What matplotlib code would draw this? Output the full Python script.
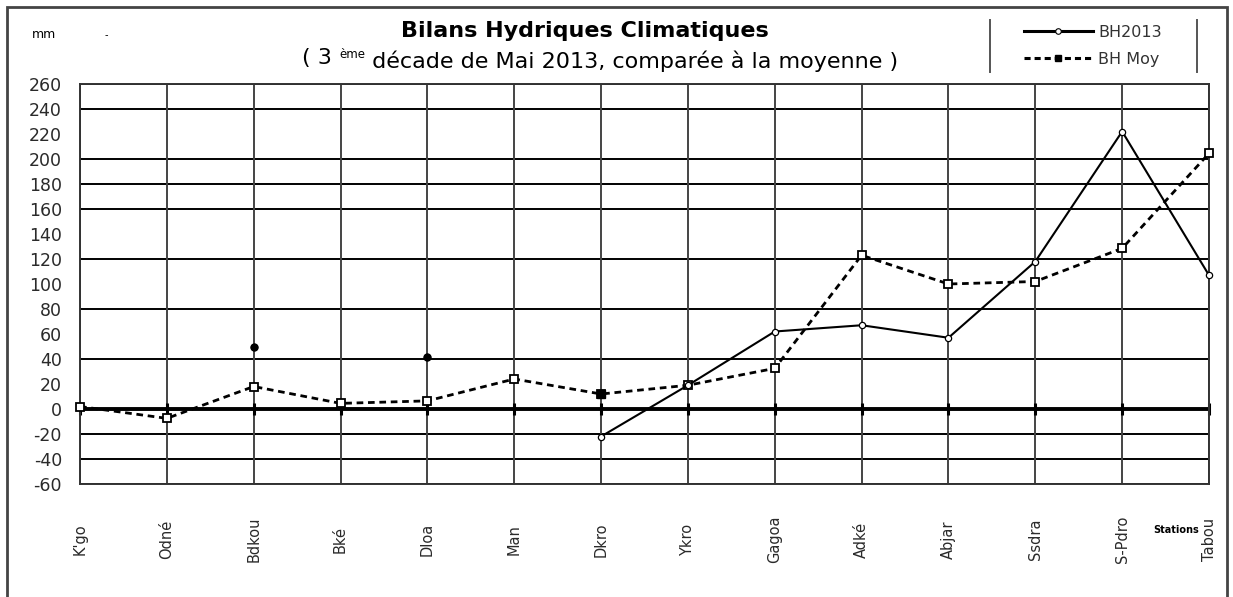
import numpy as np
import matplotlib
matplotlib.use("Agg")
import matplotlib.pyplot as plt
from matplotlib.lines import Line2D
from matplotlib.patches import Rectangle

plt.rcParams['font.family'] = ['DejaVu Sans']

# ---- data ----
stations = ["K'go", "Odné", "Bdkou", "Bké", "Dloa", "Man", "Dkro",
            "Ykro", "Gagoa", "Adké", "Abjar", "Ssdra", "S-Pdro", "Tabou"]
bh2013 = [np.nan, np.nan, 50, np.nan, 42, np.nan, -22,
          19, 62, 67, 57, 118, 222, 107]
bh_moy = [2, -7.5, 18, 4.5, 6.5, 24, 12,
          19, 32.5, 123, 100, 102, 128.5, 204.5]
y_ticks = list(range(-60, 261, 20))
y_grid = [260, 240, 200, 180, 160, 120, 80, 40, -20, -40, -60]

W, H = 1233, 597
fig = plt.figure(figsize=(W / 100, H / 100), dpi=100)
fig.patch.set_facecolor('white')

def fx(px):
    return px / W

def fy(py):
    return 1 - py / H

ax = fig.add_axes([fx(80), fy(484), fx(1209) - fx(80), fy(84) - fy(484)])
x = np.arange(len(stations))
b13 = np.array(bh2013, dtype=float)
moy = np.array(bh_moy, dtype=float)

ax.set_xlim(0, len(stations) - 1)
ax.set_ylim(-60, 260)

# grid
for v in y_grid:
    ax.axhline(v, color='black', lw=1.4, zorder=1)
for xi in x:
    ax.axvline(xi, color='#444444', lw=1.4, zorder=1)
ax.axhline(0, color='black', lw=2.8, zorder=2)
ax.plot(x, np.zeros_like(x, dtype=float), ls='none', marker='|',
        ms=8, mew=2.2, color='black', zorder=2, clip_on=False)

# series
ax.plot(x, moy, color='black', lw=2.0, ls=(0, (2.4, 1.7)), marker='s', ms=6,
        mfc='white', mec='black', mew=1.3, zorder=3, clip_on=False)
ax.plot(x[6], moy[6], ls='none', marker='s', ms=6, color='black', zorder=4)
ax.plot(x, b13, color='black', lw=1.5, marker='o', ms=4.5,
        mfc='white', mec='black', mew=0.9, zorder=4, clip_on=False)
iso = np.array([not np.isnan(b13[i]) and
                (i == 0 or np.isnan(b13[i - 1])) and
                (i == len(b13) - 1 or np.isnan(b13[i + 1]))
                for i in range(len(b13))])
ax.plot(x[iso], b13[iso], ls='none', marker='o', ms=5, color='black', zorder=5)

# axes styling
for s in ax.spines.values():
    s.set_color('#333333')
    s.set_linewidth(1.4)
ax.set_yticks(y_ticks)
ax.set_yticklabels([str(v) for v in y_ticks], fontsize=12.5, color='#2a2a2a')
ax.set_yticks(y_grid, minor=True)
ax.tick_params(axis='y', which='major', length=0, pad=13)
ax.tick_params(axis='y', which='minor', length=5.5, width=1.4, color='black')
ax.set_xticks(x)
ax.set_xticklabels(stations, rotation=90, fontsize=10.5, va='center',
                   color='#2a2a2a')
ax.tick_params(axis='x', length=0, pad=40)

# titles
fig.text(fx(585), fy(31), "Bilans Hydriques Climatiques", ha='center',
         va='center', fontsize=16, fontweight='bold')
t1 = fig.text(fx(302), fy(64), "( 3 ", ha='left', va='baseline', fontsize=16)
t2 = ax.annotate("ème", xy=(1, 1), xycoords=t1, ha='left', va='top',
                 fontsize=8.5, annotation_clip=False)
t3 = ax.annotate(" décade de Mai 2013, comparée à la moyenne )",
                 xy=(1, 0), xycoords=(t2, t1),
                 ha='left', va='baseline', fontsize=16, annotation_clip=False)

fig.text(fx(32), fy(34), "mm", ha='left', va='center', fontsize=9)
fig.text(fx(105), fy(35), "-", ha='left', va='center', fontsize=7)
fig.text(fx(1176), fy(530), "Stations", ha='center', va='center',
         fontsize=7, fontweight='bold')

# legend
handles = [Line2D([], [], color='black', lw=2.2, marker='o', ms=4,
                  mfc='white', mec='black', mew=0.8),
           Line2D([], [], color='black', lw=2.2, ls=(0, (2, 1.3)), marker='s',
                  ms=4, mfc='black', mec='black')]
fig.legend(handles, ["BH2013", "BH Moy"], loc='center left',
           bbox_to_anchor=(fx(1016), fy(46)), frameon=False, fontsize=11.5,
           handlelength=4.3, handletextpad=0.35, labelspacing=0.75,
           borderpad=0, labelcolor='#333333')
for lx in (990, 1197):
    fig.add_artist(Line2D([fx(lx), fx(lx)], [fy(20), fy(72)],
                          color='#555555', lw=1.4))

# outer frame
fig.add_artist(Rectangle((fx(7), fy(610)), fx(1227) - fx(7), fy(7) - fy(610),
                         fill=False, edgecolor='#444444', lw=2.0,
                         transform=fig.transFigure, clip_on=False))

fig.savefig("out.png", dpi=100)
